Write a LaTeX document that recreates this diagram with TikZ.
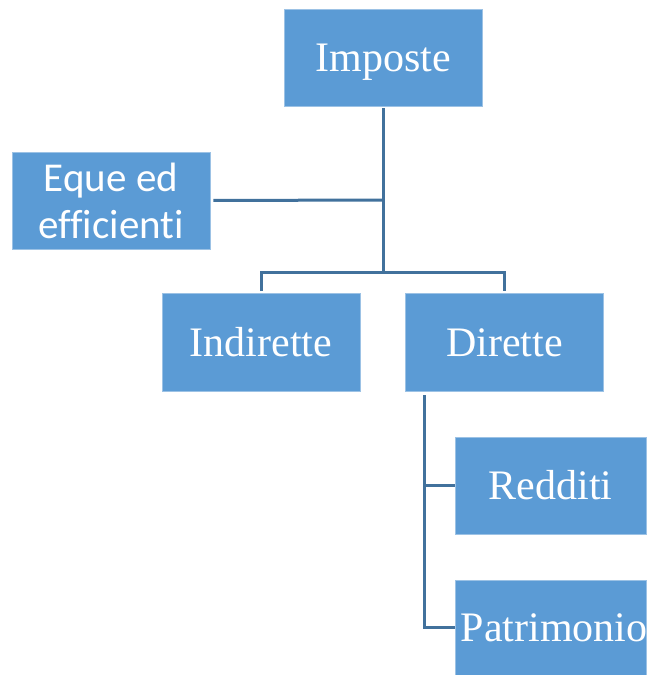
\documentclass[tikz,border=0pt]{standalone}
\usepackage{fontspec}
\setmainfont{Liberation Serif}
\newfontfamily\carl[Ligatures=NoCommon]{Carlito}
\definecolor{boxfill}{HTML}{5B9BD5}
\definecolor{boxline}{HTML}{9CC2E5}
\definecolor{conncol}{HTML}{41719C}
\begin{document}
\begin{tikzpicture}[x=1pt,y=-1pt,
  box/.style={draw=boxline, line width=0.8pt, fill=boxfill, text=white,
    minimum width=198pt, minimum height=97pt, inner sep=0pt,
    font=\fontsize{42}{48}\selectfont},
  conn/.style={draw=conncol, line width=3pt}]
\useasboundingbox (0,0) rectangle (646,675);
\node[box, text depth=0pt] (imp) at (383,57.5) {Imposte};
\node[box, align=center, font=\carl\fontsize{41}{47}\selectfont] (eq) at (111,200.5) {Eque ed\\efficienti};
\node[box, minimum height=98pt] (ind) at (261,342.5) {Indirette};
\node[box, minimum height=98pt] (dir) at (504.5,342.5) {Dirette};
\node[box, minimum width=191pt] (red) at (550.5,485.5) {Redditi};
\node[box, minimum width=191pt, minimum height=95pt] (pat) at (550.5,627.5) {\makebox[150pt]{\hspace*{7pt}Patrimonio}};
\coordinate (j1) at (383,200);
\coordinate (j2) at (383,272);
\coordinate (d0) at (424,393);
\draw[conn, shorten <=2pt] (imp.south) -- (j2);
\draw[conn, shorten <=3pt] (eq.east) -- (j1);
\draw[conn, shorten <=2pt, shorten >=2pt] (ind.north) |- (j2) -| (dir.north);
\draw[conn, shorten <=2pt] (d0) |- (red.west);
\draw[conn, shorten <=2pt] (d0) |- (pat.west);
\end{tikzpicture}
\end{document}
